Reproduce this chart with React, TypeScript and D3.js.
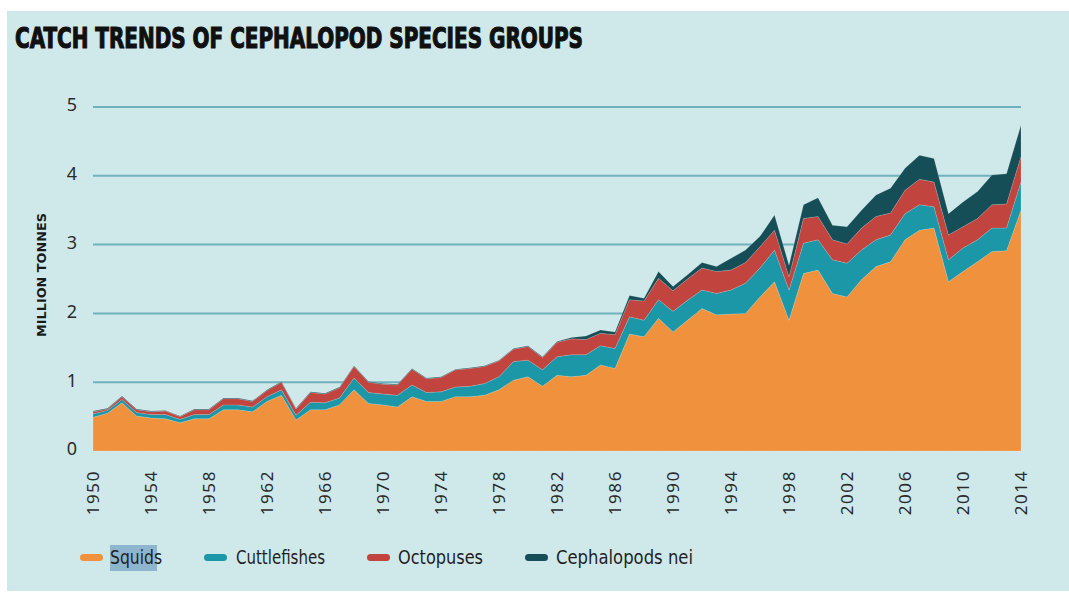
import React from "react";
import * as d3 from "d3";

// Catch of cephalopod groups, million tonnes, 1950–2014
const years = d3.range(1950, 2015);

const squids = [
  0.49, 0.55, 0.70, 0.51, 0.48, 0.47, 0.41, 0.47, 0.47, 0.60,
  0.60, 0.57, 0.72, 0.81, 0.45, 0.60, 0.60, 0.67, 0.89, 0.69,
  0.67, 0.64, 0.79, 0.72, 0.72, 0.79, 0.79, 0.81, 0.89, 1.03,
  1.08, 0.94, 1.10, 1.08, 1.10, 1.25, 1.20, 1.70, 1.66, 1.93,
  1.73, 1.90, 2.07, 1.98, 1.99, 2.00, 2.24, 2.46, 1.90, 2.58,
  2.63, 2.29, 2.24, 2.49, 2.68, 2.75, 3.07, 3.21, 3.24, 2.46,
  2.61, 2.75, 2.90, 2.91, 3.50,
];
const cuttlefishes = [
  0.05, 0.04, 0.05, 0.05, 0.05, 0.06, 0.05, 0.06, 0.06, 0.07,
  0.07, 0.07, 0.07, 0.08, 0.07, 0.11, 0.10, 0.10, 0.17, 0.16,
  0.16, 0.17, 0.17, 0.13, 0.14, 0.14, 0.15, 0.17, 0.19, 0.27,
  0.24, 0.24, 0.27, 0.32, 0.30, 0.28, 0.29, 0.25, 0.24, 0.27,
  0.30, 0.29, 0.27, 0.31, 0.35, 0.44, 0.42, 0.46, 0.44, 0.44,
  0.44, 0.49, 0.49, 0.43, 0.39, 0.39, 0.38, 0.37, 0.31, 0.32,
  0.34, 0.32, 0.34, 0.33, 0.41,
];
const octopuses = [
  0.03, 0.02, 0.04, 0.04, 0.04, 0.05, 0.04, 0.07, 0.07, 0.09,
  0.09, 0.08, 0.09, 0.11, 0.09, 0.14, 0.13, 0.15, 0.17, 0.15,
  0.14, 0.15, 0.23, 0.20, 0.21, 0.25, 0.26, 0.25, 0.23, 0.18,
  0.20, 0.18, 0.21, 0.23, 0.22, 0.18, 0.20, 0.25, 0.28, 0.31,
  0.30, 0.31, 0.32, 0.32, 0.29, 0.30, 0.31, 0.29, 0.19, 0.36,
  0.34, 0.29, 0.28, 0.32, 0.34, 0.32, 0.34, 0.37, 0.36, 0.36,
  0.31, 0.31, 0.34, 0.35, 0.37,
];
const cephalopodsNei = [
  0.01, 0.01, 0.01, 0.01, 0.01, 0.01, 0.01, 0.01, 0.01, 0.01,
  0.01, 0.01, 0.01, 0.01, 0.01, 0.01, 0.01, 0.01, 0.01, 0.01,
  0.01, 0.01, 0.01, 0.01, 0.01, 0.01, 0.01, 0.01, 0.01, 0.01,
  0.01, 0.01, 0.01, 0.02, 0.05, 0.05, 0.04, 0.06, 0.04, 0.10,
  0.06, 0.06, 0.08, 0.07, 0.17, 0.18, 0.15, 0.22, 0.17, 0.20,
  0.27, 0.21, 0.25, 0.26, 0.31, 0.36, 0.32, 0.35, 0.34, 0.31,
  0.36, 0.39, 0.43, 0.44, 0.46,
];

const seriesKeys = ["Squids", "Cuttlefishes", "Octopuses", "Cephalopods nei"];
const seriesColors = ["#f0923d", "#1b97a7", "#c1443f", "#164e57"];
const yTicks = [0, 1, 2, 3, 4, 5];
const xTickYears = d3.range(1950, 2015, 4);

type Row = { year: number; [k: string]: number };

const rows: Row[] = years.map((year, i) => ({
  year,
  Squids: squids[i],
  Cuttlefishes: cuttlefishes[i],
  Octopuses: octopuses[i],
  "Cephalopods nei": cephalopodsNei[i],
}));

const W = 1069;
const H = 596;
const font = "'Noto Sans', 'Open Sans', 'DejaVu Sans', sans-serif";
const condensed =
  "'Liberation Sans Narrow', 'DejaVu Sans Condensed', 'Roboto', 'Noto Sans', sans-serif";

export default function App() {
  const x = d3.scaleLinear().domain([1950, 2014]).range([93, 1021]);
  const y = d3.scaleLinear().domain([0, 5]).range([451, 107]);

  const stacked = d3.stack<Row>().keys(seriesKeys)(rows);
  const area = d3
    .area<d3.SeriesPoint<Row>>()
    .x((d) => x(d.data.year))
    .y0((d) => y(d[0]))
    .y1((d) => y(d[1]));

  const legendItems = [
    { swatch: 80, text: 110, width: 52 },
    { swatch: 204, text: 236, width: 89 },
    { swatch: 367, text: 398, width: 85 },
    { swatch: 525, text: 556, width: 137 },
  ];

  return (
    <svg
      width={W}
      height={H}
      style={{ position: "absolute", left: 0, top: 0, display: "block" }}
    >
      <rect x={0} y={0} width={W} height={H} fill="#ffffff" />
      <rect x={7} y={11} width={W - 7} height={580} fill="#cfe9ea" />

      {/* title */}
      <text
        x={15}
        y={48}
        fontFamily={condensed}
        fontWeight={900}
        fontSize={28}
        fill="#101010"
        stroke="#101010"
        strokeWidth={1.1}
        textLength={568}
        lengthAdjust="spacingAndGlyphs"
      >
        CATCH TRENDS OF CEPHALOPOD SPECIES GROUPS
      </text>

      {/* horizontal gridlines */}
      {yTicks
        .filter((t) => t > 0)
        .map((t) => (
          <line
            key={t}
            x1={x(1950)}
            x2={x(2014)}
            y1={y(t)}
            y2={y(t)}
            stroke="#6fb2bd"
            strokeWidth={2}
          />
        ))}

      {/* y tick labels */}
      {yTicks.map((t) => (
        <text
          key={t}
          x={72}
          y={y(t) - 2}
          dy="0.35em"
          textAnchor="middle"
          fontFamily={font}
          fontSize={18}
          fill="#2b2b2b"
        >
          {t}
        </text>
      ))}

      {/* y axis title */}
      <text
        transform="translate(46,275) rotate(-90)"
        textAnchor="middle"
        fontFamily={condensed}
        fontWeight={700}
        fontSize={12.5}
        fill="#1a1a1a"
        textLength={124}
        lengthAdjust="spacingAndGlyphs"
      >
        MILLION TONNES
      </text>

      {/* stacked areas */}
      {stacked.map((s, i) => (
        <path
          key={s.key}
          d={area(s) || ""}
          fill={seriesColors[i]}
          stroke="rgba(255,255,255,0.25)"
          strokeWidth={0.6}
        />
      ))}

      {/* x tick labels */}
      {xTickYears.map((yr) => (
        <text
          key={yr}
          transform={`translate(${x(yr)},470) rotate(-90)`}
          textAnchor="end"
          dy="0.36em"
          fontFamily={font}
          fontSize={17}
          letterSpacing={1.6}
          fill="#2b2b2b"
        >
          {yr}
        </text>
      ))}

      {/* legend */}
      <rect x={110} y={545} width={47} height={26} fill="#8db6ce" />
      {seriesKeys.map((k, i) => (
        <g key={k}>
          <rect
            x={legendItems[i].swatch}
            y={554}
            width={23}
            height={7}
            rx={3.5}
            fill={seriesColors[i]}
          />
          <text
            x={legendItems[i].text}
            y={557}
            dy="0.35em"
            fontFamily={condensed}
            fontSize={19}
            fill="#1f1f1f"
            textLength={legendItems[i].width}
            lengthAdjust="spacingAndGlyphs"
          >
            {k}
          </text>
        </g>
      ))}
    </svg>
  );
}
